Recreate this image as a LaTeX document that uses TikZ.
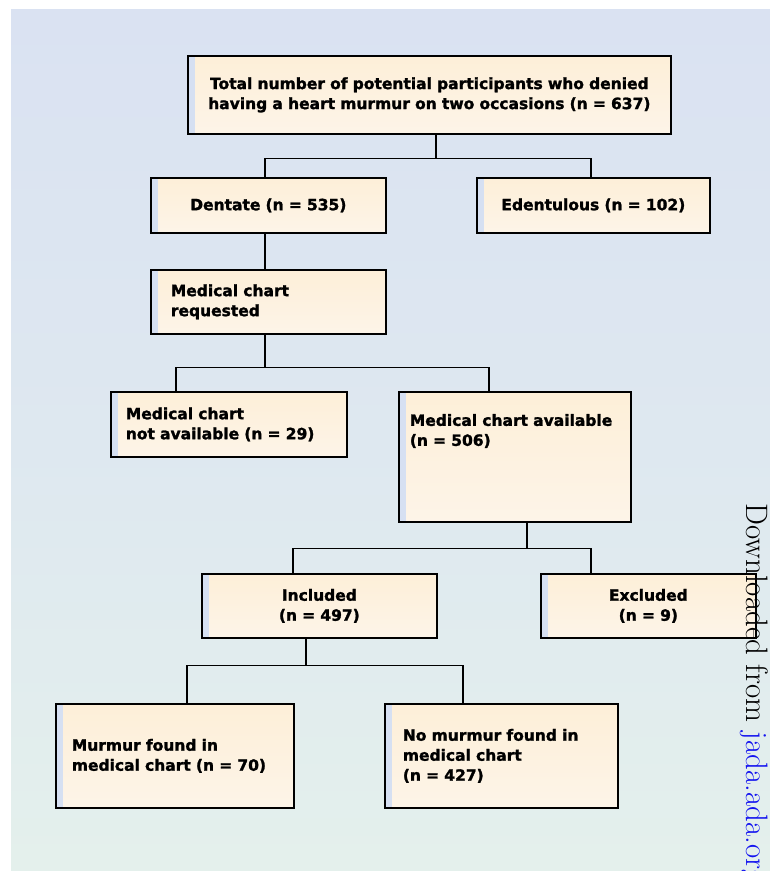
\documentclass[tikz,border=0pt]{standalone}
\usepackage{fontspec}
\setsansfont{DejaVu Sans}[BoldFeatures={FakeBold=1.6}]
\usepackage{tikz}
\usetikzlibrary{calc}
\definecolor{bgtop}{RGB}{218,226,242}
\definecolor{bgbot}{RGB}{228,240,236}
\definecolor{boxtop}{RGB}{253,239,216}
\definecolor{boxbot}{RGB}{253,244,232}
\definecolor{boxstrip}{RGB}{214,224,242}
\definecolor{linkblue}{RGB}{20,20,240}
\tikzset{chartbox/.style={draw=black, line width=1.7pt, top color=boxtop, bottom color=boxbot,
    anchor=north west, inner ysep=3pt,
    font=\sffamily\bfseries\fontsize{15.5}{20}\selectfont,
    path picture={\fill[boxstrip] (path picture bounding box.south west) rectangle ([xshift=7pt]path picture bounding box.north west);}}}
\tikzset{link/.style={line width=1.3pt}}
\newcommand{\cbox}[6]{\node[chartbox, minimum width=#2pt, minimum height=#3pt, #4] (#1) at (#5) {#6};}

\begin{document}
\begin{tikzpicture}[x=1pt,y=-1pt]
\useasboundingbox (0,0) rectangle (770,871);
\shade[top color=bgtop, bottom color=bgbot, middle color={rgb,255:red,222;green,232;blue,240}] (11,9) rectangle (770,871);
\cbox{total}{483}{78}{inner xsep=6pt, text width=471pt, align=center}{187,55}{Total number of potential participants who denied\\having a heart murmur on two occasions (n = 637)}
\cbox{dent}{235}{55}{inner xsep=8pt, text width=219pt, align=center}{150,177}{Dentate (n = 535)}
\cbox{edent}{233}{55}{inner xsep=8pt, text width=217pt, align=center}{476,177}{Edentulous (n = 102)}
\cbox{req}{235}{64}{inner xsep=20pt, text width=195pt, align=left}{150,269}{Medical chart\\requested}
\cbox{notavail}{236}{65}{inner xsep=15pt, text width=206pt, align=left}{110,391}{Medical chart\\not available (n = 29)}
\cbox{avail}{232}{130}{inner xsep=11pt, inner ysep=0pt, text width=210pt, align=left, text height=34pt, text depth=96pt}{398,391}{Medical chart available\\(n = 506)}
\cbox{incl}{235}{64}{inner xsep=8pt, text width=219pt, align=center}{201,573}{Included\\(n = 497)}
\cbox{excl}{215}{64}{inner xsep=8pt, text width=199pt, align=center}{540,573}{Excluded\\(n = 9)}
\cbox{found}{238}{104}{inner xsep=16pt, text width=206pt, align=left}{55,703}{Murmur found in\\medical chart (n = 70)}
\cbox{nofound}{233}{104}{inner xsep=18pt, text width=197pt, align=left}{384,703}{No murmur found in\\medical chart\\(n = 427)}
% tree connectors
\draw[link] ([xshift=249pt]total.south west) -- ++(0,24) coordinate (j1);
\draw[link] ([xshift=115pt]dent.north west) |- (j1) -| ([xshift=115pt]edent.north west);
\draw[link] ([xshift=115pt]dent.south west) -- ([xshift=115pt]req.north west);
\draw[link] ([xshift=115pt]req.south west) -- ++(0,33) coordinate (j2);
\draw[link] ([xshift=66pt]notavail.north west) |- (j2) -| ([xshift=91pt]avail.north west);
\draw[link] ([xshift=129pt]avail.south west) -- ++(0,26) coordinate (j3);
\draw[link] ([xshift=92pt]incl.north west) |- (j3) -| ([xshift=51pt]excl.north west);
\draw[link] ([xshift=105pt]incl.south west) -- ++(0,27) coordinate (j4);
\draw[link] ([xshift=132pt]found.north west) |- (j4) -| ([xshift=79pt]nofound.north west);
\node[rotate=-90, anchor=base west, font=\rmfamily\fontsize{31}{36}\selectfont, inner sep=0pt] (stamp) at (746,503) {Downloaded from \textcolor{linkblue}{jada.ada.org}};
\end{tikzpicture}
\end{document}
